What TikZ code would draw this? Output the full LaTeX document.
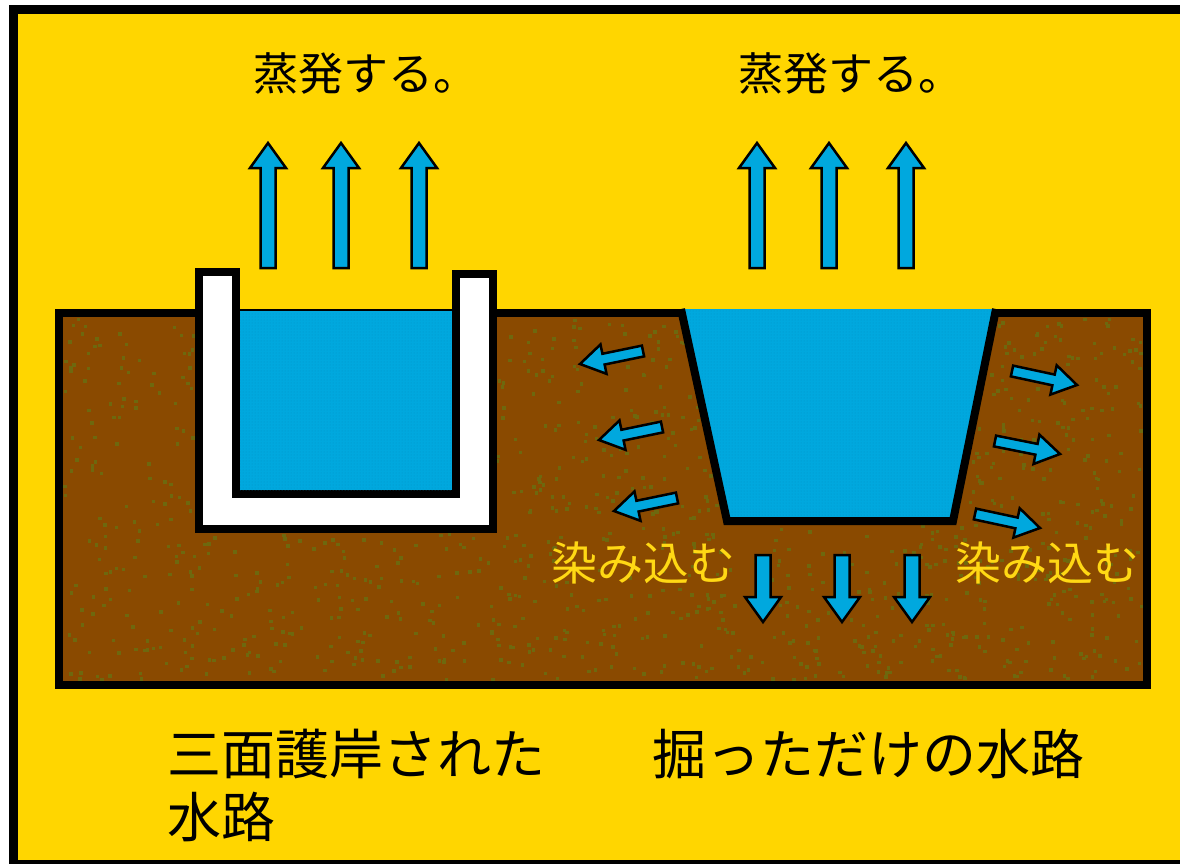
\documentclass[tikz,border=0pt]{standalone}
\usepackage{fontspec}
\newfontfamily\jpfont{Noto Sans CJK JP}
\usetikzlibrary{calc,patterns}

\definecolor{bgyellow}{RGB}{255,214,0}
\definecolor{soil}{RGB}{138,74,0}
\definecolor{soildot}{RGB}{110,104,14}
\definecolor{water}{RGB}{0,168,222}
\definecolor{waterdot}{RGB}{0,148,200}
\definecolor{seeptext}{RGB}{255,216,20}

% block arrow: tail, tip, half shaft width, half head width, head length
\newcommand\blockarrow[5]{%
  \coordinate (neck) at ($(#2)!#5!(#1)$);
  \filldraw[flowarrow]
    ($(#1)!#3!90:(#2)$) -- ($(neck)!#3!90:(#2)$) -- ($(neck)!#4!90:(#2)$)
    -- (#2) -- ($(neck)!#4!-90:(#2)$) -- ($(neck)!#3!-90:(#2)$)
    -- ($(#1)!#3!-90:(#2)$) -- cycle;}

\begin{document}
\begin{tikzpicture}[x=1pt,y=-1pt,
  flowarrow/.style={fill=water,draw=black,line width=2.5,line join=miter},
  outline/.style={draw=black,line width=8,line join=miter},
  labeltext/.style={font=\jpfont\fontsize{45}{50}\selectfont,inner sep=0,anchor=west},
  seeptextstyle/.style={font=\jpfont\fontsize{46}{50}\selectfont,inner sep=0,anchor=west,text=seeptext},
  captiontext/.style={font=\jpfont\fontsize{54}{63}\selectfont,inner sep=0,anchor=west,align=left},
]
\useasboundingbox (0,0) rectangle (1180,863);
\fill[white] (0,0) rectangle (1180,863);

% outer frame
\filldraw[fill=bgyellow,draw=black,line width=9] (13.5,9.5) rectangle (1195,864.5);

% soil block
\filldraw[fill=soil,outline] (59,313) rectangle (1147,685);
\pgfmathsetseed{17}
\foreach \i in {1,...,1400}{
  \pgfmathsetmacro\dx{63+rnd*1077}
  \pgfmathsetmacro\dy{317+rnd*361}
  \fill[soildot] (\dx,\dy) rectangle ++(3.5,3.5);
}

% lined channel (U-shaped concrete)
\filldraw[fill=white,outline]
  (199,272) -- (199,529) -- (493,529) -- (493,274) -- (456,274)
  -- (456,494) -- (236,494) -- (236,272) -- cycle;
\fill[water] (240,310) rectangle (452,490);
\fill[pattern=dots,pattern color=waterdot] (240,312) rectangle (452,490);
\draw[black,line width=1.5] (240,310.5) -- (452,310.5);

% dug channel (trapezoid)
\coordinate (tl) at (681,309);
\coordinate (bl) at (727,521);
\coordinate (br) at (953,521);
\coordinate (tr) at (996,309);
\fill[water] (tl) -- (bl) -- (br) -- (tr) -- cycle;
\fill[pattern=dots,pattern color=waterdot] (tl) -- (bl) -- (br) -- (tr) -- cycle;
\draw[outline] (tl) -- (bl) -- (br) -- (tr);

% evaporation arrows
\foreach \x [count=\k] in {268,341,419,757,829,906}{
  \coordinate (ut\k) at (\x,268);
  \coordinate (uh\k) at (\x,143);
  \blockarrow{ut\k}{uh\k}{7.5pt}{18pt}{25pt}
}

% seepage downward
\foreach \x [count=\k] in {763,842,912}{
  \coordinate (dt\k) at (\x,555);
  \coordinate (dh\k) at (\x,622);
  \blockarrow{dt\k}{dh\k}{7.5pt}{18pt}{25pt}
}

% seepage to the left
\coordinate (lt1) at (643,351); \coordinate (lh1) at (580,364);
\coordinate (lt2) at (662,427); \coordinate (lh2) at (599,440);
\coordinate (lt3) at (677,498); \coordinate (lh3) at (614,511);
\foreach \k in {1,2,3}{\blockarrow{lt\k}{lh\k}{5.5pt}{15pt}{24pt}}

% seepage to the right
\coordinate (rt1) at (1012,371); \coordinate (rh1) at (1077,385);
\coordinate (rt2) at (995,441);  \coordinate (rh2) at (1060,454);
\coordinate (rt3) at (975,514);  \coordinate (rh3) at (1040,528);
\foreach \k in {1,2,3}{\blockarrow{rt\k}{rh\k}{5.5pt}{15pt}{24pt}}

% labels
\node[labeltext] (evapL) at (253,73) {蒸発する。};
\node[labeltext] (evapR) at (738,73) {蒸発する。};
\node[seeptextstyle] (seepL) at (551,563) {染み込む};
\node[seeptextstyle] (seepR) at (955,563) {染み込む};
\node[captiontext,anchor=north west] (capL) at (167,729) {三面護岸された\\水路};
\node[captiontext,anchor=north west] (capR) at (652,729) {掘っただけの水路};
\end{tikzpicture}
\end{document}
